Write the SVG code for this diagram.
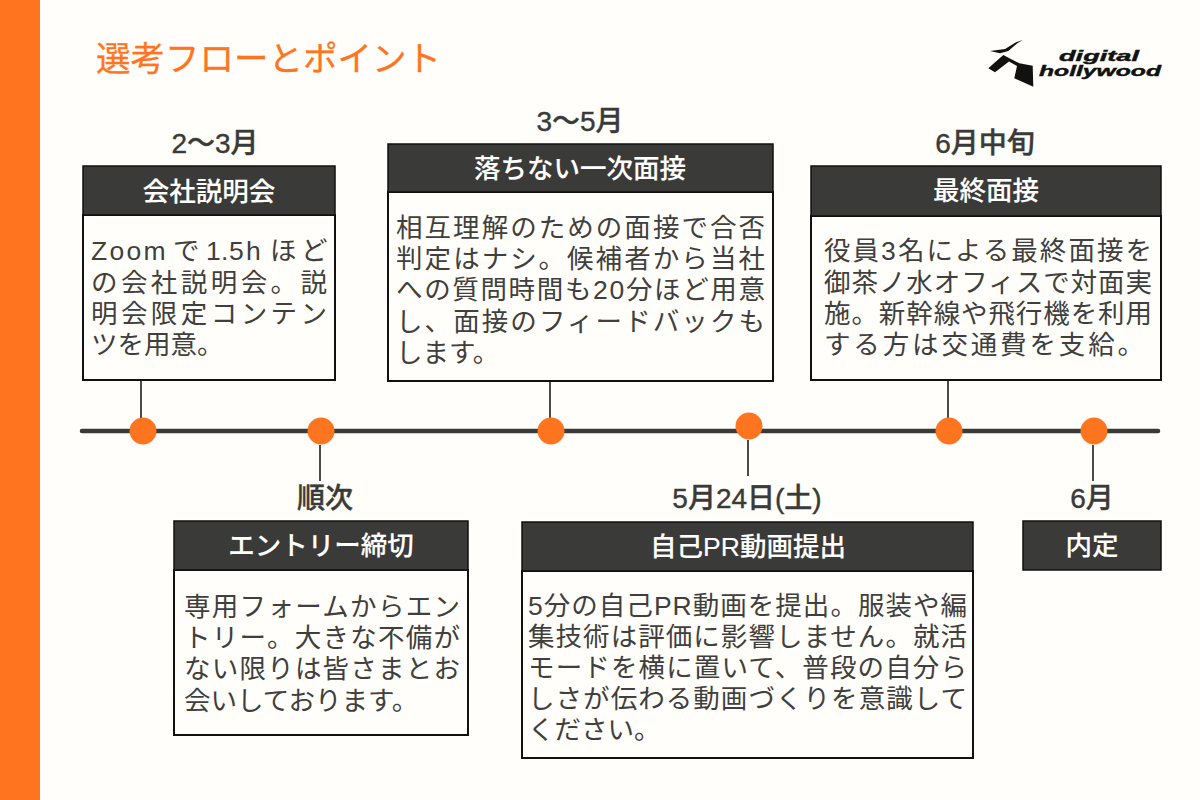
<svg xmlns="http://www.w3.org/2000/svg" width="1200" height="800" viewBox="0 0 1200 800">
<style>
text{font-family:"Liberation Sans","Noto Sans CJK JP",sans-serif}
.d{font-size:28px;font-weight:500;fill:#3a3a38;stroke:#3a3a38;stroke-width:.4;text-anchor:middle}
.h{font-size:26.5px;font-weight:500;fill:#fff;stroke:#fff;stroke-width:.12;text-anchor:middle}
.b{font-size:26.5px;font-weight:400;fill:#3f3f3d}
.hd{fill:#3a3a38;stroke:#111;stroke-width:1.5}
.bd{fill:#fffefa;stroke:#111;stroke-width:2}
.c{stroke:#4a4a48;stroke-width:2;fill:none}
.dot{fill:#ff751f}
.l{font-size:14.5px;font-weight:700;font-style:italic;fill:#111;stroke:#111;stroke-width:.4}
</style>
<rect width="1200" height="800" fill="#fffefa"/>
<rect width="40" height="800" fill="#ff751f"/>
<text x="96" y="71" font-size="34.5" fill="#ff751f" stroke="#ff751f" stroke-width=".3" textLength="345" lengthAdjust="spacingAndGlyphs">選考フローとポイント</text>
<g id="logo">
<path d="M990 51L1005 49L1016 42.3L1022.7 40L1017.3 43.3L1008.3 51L1000 53.3Z" fill="#111"/>
<path d="M988.3 68.3L1003.3 55L1019.3 63.3L1032.7 65.7L1033.3 86.7L1014.3 78.3L1017 66L1009 61.5L995 72.3Z" fill="#111"/>
<text class="l" x="1059" y="61" textLength="80" lengthAdjust="spacingAndGlyphs">digital</text>
<text class="l" x="1039" y="76" textLength="122" lengthAdjust="spacingAndGlyphs">hollywood</text>
</g>
<g id="connectors">
<path d="M82 431H1158" stroke="#3a3a38" stroke-width="4.5" stroke-linecap="round" fill="none"/>
<path class="c" d="M141 380V420M320 445V481M550 381V420M748 440V476M948 381V420M1093 445V481"/>
</g>
<g id="n1">
<text class="d" x="215" y="153">2〜3月</text>
<rect class="bd" x="83" y="215" width="252" height="165"/>
<rect class="hd" x="83" y="166" width="252" height="49"/>
<text class="h" x="209" y="201">会社説明会</text>
<text class="b" x="91 109.5 126.5 143.5 173 206 221 229 246 270 301" y="260">Zoomで1.5hほど</text>
<text class="b" x="91" y="292" textLength="236">の会社説明会。説</text>
<text class="b" x="91" y="323" textLength="236">明会限定コンテン</text>
<text class="b" x="91" y="354">ツを用意。</text>
<circle class="dot" cx="143" cy="431" r="13.5"/>
</g>
<g id="n2">
<text class="d" x="580" y="131">3〜5月</text>
<rect class="bd" x="388" y="192" width="385" height="189"/>
<rect class="hd" x="388" y="144" width="385" height="48"/>
<text class="h" x="580" y="178">落ちない一次面接</text>
<text class="b" x="396" y="237" textLength="369">相互理解のための面接で合否</text>
<text class="b" x="396" y="268" textLength="369">判定はナシ。候補者から当社</text>
<text class="b" x="396" y="299" textLength="369">への質問時間も20分ほど用意</text>
<text class="b" x="396" y="331" textLength="369">し、面接のフィードバックも</text>
<text class="b" x="396" y="362">します。</text>
<circle class="dot" cx="551" cy="431" r="13.5"/>
</g>
<g id="n3">
<text class="d" x="985" y="153">6月中旬</text>
<rect class="bd" x="811" y="216" width="350" height="164"/>
<rect class="hd" x="811" y="166" width="350" height="50"/>
<text class="h" x="986" y="200">最終面接</text>
<text class="b" x="824" y="260" textLength="328">役員3名による最終面接を</text>
<text class="b" x="824" y="292" textLength="328">御茶ノ水オフィスで対面実</text>
<text class="b" x="824" y="323" textLength="328">施。新幹線や飛行機を利用</text>
<text class="b" x="824" y="354" textLength="320">する方は交通費を支給。</text>
<circle class="dot" cx="949" cy="431" r="13.5"/>
</g>
<g id="n4">
<text class="d" x="325" y="508">順次</text>
<rect class="bd" x="174" y="570" width="294" height="165"/>
<rect class="hd" x="174" y="521" width="294" height="49"/>
<text class="h" x="321" y="555">エントリー締切</text>
<text class="b" x="184" y="616" textLength="276">専用フォームからエン</text>
<text class="b" x="184" y="647" textLength="276">トリー。大きな不備が</text>
<text class="b" x="184" y="678" textLength="276">ない限りは皆さまとお</text>
<text class="b" x="184" y="710">会いしております。</text>
<circle class="dot" cx="321" cy="431" r="13.5"/>
</g>
<g id="n5">
<text class="d" x="747" y="508">5月24日(土)</text>
<rect class="bd" x="522" y="571" width="451" height="187"/>
<rect class="hd" x="522" y="522" width="451" height="49"/>
<text class="h" x="748" y="556">自己PR動画提出</text>
<text class="b" x="528" y="615" textLength="439">5分の自己PR動画を提出。服装や編</text>
<text class="b" x="528" y="646" textLength="439">集技術は評価に影響しません。就活</text>
<text class="b" x="528" y="677" textLength="439">モードを横に置いて、普段の自分ら</text>
<text class="b" x="528" y="708" textLength="439">しさが伝わる動画づくりを意識して</text>
<text class="b" x="528" y="739">ください。</text>
<circle class="dot" cx="749" cy="426" r="13.5"/>
</g>
<g id="n6">
<text class="d" x="1092" y="508">6月</text>
<rect class="hd" x="1023" y="521" width="138" height="49"/>
<text class="h" x="1092" y="555">内定</text>
<circle class="dot" cx="1094" cy="431" r="13.5"/>
</g>
</svg>
